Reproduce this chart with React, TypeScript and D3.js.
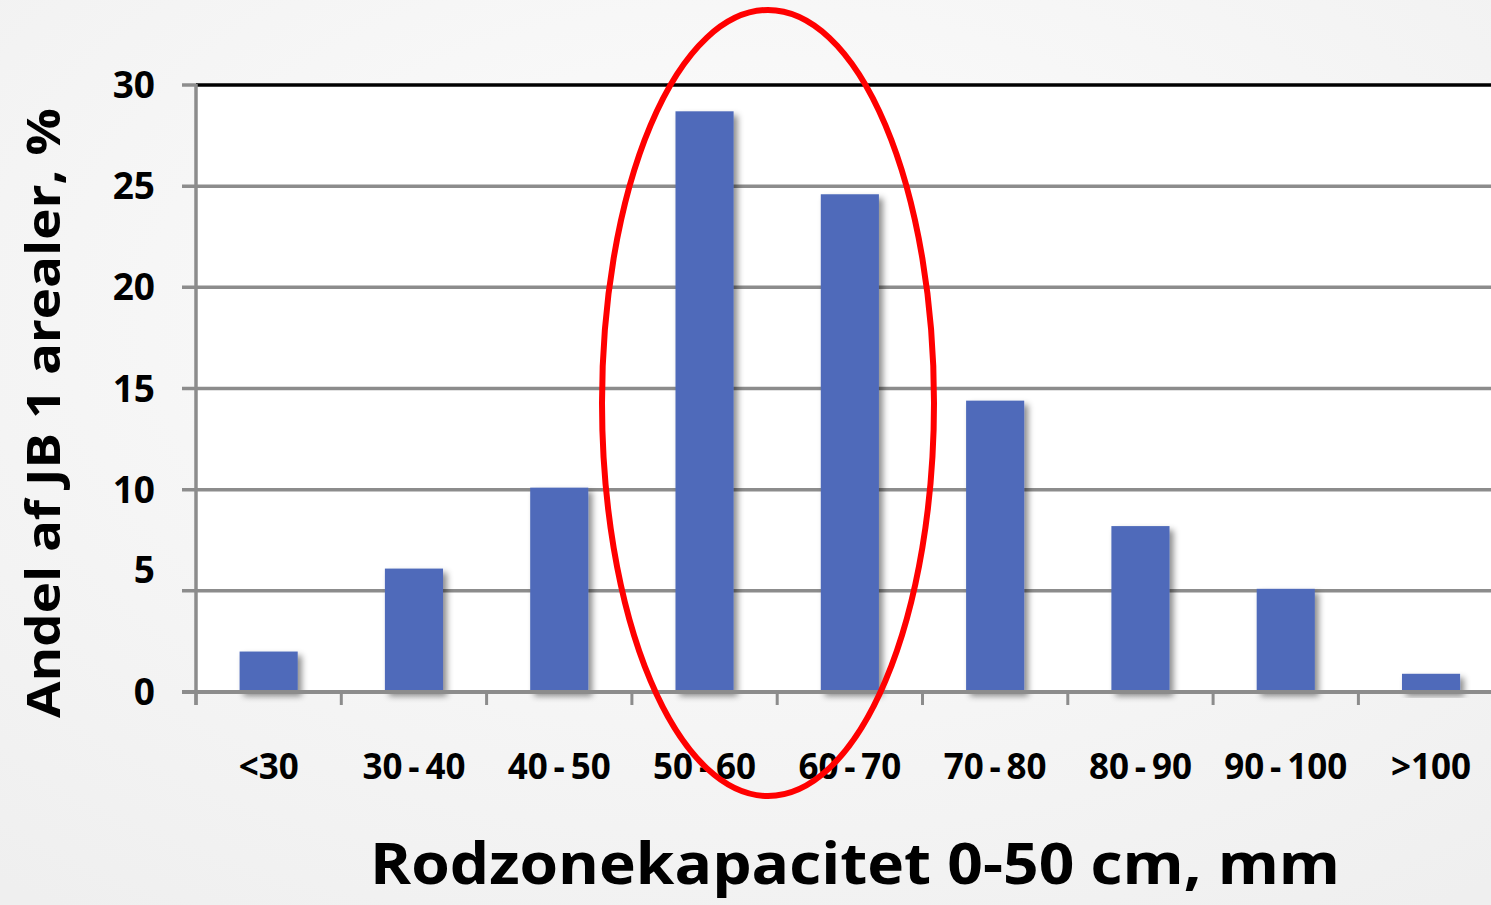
import React, { useEffect, useRef } from 'react';
import * as d3 from 'd3';

const categories = ['<30', '30-40', '40-50', '50-60', '60-70', '70-80', '80-90', '90-100', '>100'];
const shares = [2.0, 6.1, 10.1, 28.7, 24.6, 14.4, 8.2, 5.1, 0.9];
const yTicks = [0, 5, 10, 15, 20, 25, 30];

const W = 1491;
const H = 905;
const FONT = "'Open Sans', sans-serif";

const App: React.FC = () => {
  const svgRef = useRef<SVGSVGElement>(null);

  useEffect(() => {
    if (!svgRef.current) return;
    const svg = d3.select(svgRef.current);
    svg.selectAll('*').remove();

    const left = 196;
    const top = 85;
    const bottom = 692;
    const band = 145.3;

    const x = d3.scaleBand<string>()
      .domain(categories)
      .range([left, left + band * categories.length])
      .paddingInner(0.6)
      .paddingOuter(0.3);
    const y = d3.scaleLinear().domain([0, 30]).range([bottom, top]);

    const defs = svg.append('defs');
    const grad = defs.append('radialGradient').attr('id', 'bg').attr('cx', '50%').attr('cy', '35%').attr('r', '80%');
    grad.append('stop').attr('offset', '0%').attr('stop-color', '#fdfdfd');
    grad.append('stop').attr('offset', '100%').attr('stop-color', '#efefef');
    const shadow = defs.append('filter').attr('id', 'shadow').attr('x', '-20%').attr('y', '-20%').attr('width', '150%').attr('height', '150%');
    shadow.append('feDropShadow')
      .attr('dx', 4).attr('dy', 4).attr('stdDeviation', 3)
      .attr('flood-color', '#000').attr('flood-opacity', 0.45);

    svg.append('rect').attr('width', W).attr('height', H).attr('fill', 'url(#bg)');

    // plot area
    svg.append('rect')
      .attr('x', left).attr('y', top)
      .attr('width', W - left).attr('height', bottom - top)
      .attr('fill', '#fff');

    // gridlines
    svg.append('g').selectAll('line')
      .data(yTicks.filter(t => t > 0 && t < 30))
      .enter().append('line')
      .attr('x1', left - 14).attr('x2', W)
      .attr('y1', d => y(d)).attr('y2', d => y(d))
      .attr('stroke', '#8c8c8c').attr('stroke-width', 3.5);

    svg.append('line')
      .attr('x1', left - 14).attr('x2', left)
      .attr('y1', y(30)).attr('y2', y(30))
      .attr('stroke', '#8c8c8c').attr('stroke-width', 3.5);
    svg.append('line')
      .attr('x1', left).attr('x2', W)
      .attr('y1', y(30)).attr('y2', y(30))
      .attr('stroke', '#000').attr('stroke-width', 3.5);

    // bars
    svg.append('g').selectAll('rect')
      .data(shares)
      .enter().append('rect')
      .attr('x', (d, i) => x(categories[i])!)
      .attr('y', d => y(d))
      .attr('width', x.bandwidth())
      .attr('height', d => bottom - y(d))
      .attr('fill', '#4f6bba')
      .attr('filter', 'url(#shadow)');

    // x axis line + ticks
    svg.append('line')
      .attr('x1', left - 14).attr('x2', W)
      .attr('y1', bottom).attr('y2', bottom)
      .attr('stroke', '#8c8c8c').attr('stroke-width', 4);
    svg.append('g').selectAll('line')
      .data(d3.range(categories.length + 1))
      .enter().append('line')
      .attr('x1', i => left + band * i).attr('x2', i => left + band * i)
      .attr('y1', bottom).attr('y2', bottom + 13)
      .attr('stroke', '#8c8c8c').attr('stroke-width', 3);

    // y axis line
    svg.append('line')
      .attr('x1', left).attr('x2', left)
      .attr('y1', top - 1).attr('y2', bottom + 13)
      .attr('stroke', '#8c8c8c').attr('stroke-width', 3.5);

    // y tick labels
    svg.append('g').selectAll('text')
      .data(yTicks)
      .enter().append('text')
      .attr('x', 155)
      .attr('y', d => y(d) + (d === 5 ? -8 : 13))
      .attr('text-anchor', 'end')
      .attr('font-family', FONT).attr('font-weight', 700).attr('font-size', 37)
      .attr('fill', '#000')
      .text(d => d);

    // x tick labels
    svg.append('g').selectAll('text')
      .data(categories)
      .enter().append('text')
      .attr('x', d => x(d)! + x.bandwidth() / 2)
      .attr('y', 779)
      .attr('text-anchor', 'middle')
      .attr('font-family', FONT).attr('font-weight', 700).attr('font-size', 35)
      .attr('fill', '#000')
      .text(d => d.replace('-', '\u2009-\u2009'));

    // axis titles
    svg.append('text')
      .attr('x', 855).attr('y', 884)
      .attr('text-anchor', 'middle')
      .attr('font-family', FONT).attr('font-weight', 700).attr('font-size', 58)
      .attr('textLength', 970).attr('lengthAdjust', 'spacingAndGlyphs')
      .attr('fill', '#000')
      .text('Rodzonekapacitet 0-50 cm, mm');

    svg.append('text')
      .attr('transform', 'translate(60,413) rotate(-90)')
      .attr('text-anchor', 'middle')
      .attr('font-family', FONT).attr('font-weight', 700).attr('font-size', 46)
      .attr('textLength', 610).attr('lengthAdjust', 'spacingAndGlyphs')
      .attr('fill', '#000')
      .text('Andel af JB 1 arealer, %');

    // highlight ellipse
    svg.append('ellipse')
      .attr('cx', 768).attr('cy', 403)
      .attr('rx', 166).attr('ry', 393)
      .attr('fill', 'none')
      .attr('stroke', '#ff0000').attr('stroke-width', 6);
  }, []);

  return (
    <svg
      ref={svgRef}
      width={W}
      height={H}
      style={{ position: 'absolute', left: 0, top: 0, display: 'block' }}
    />
  );
};

export default App;
